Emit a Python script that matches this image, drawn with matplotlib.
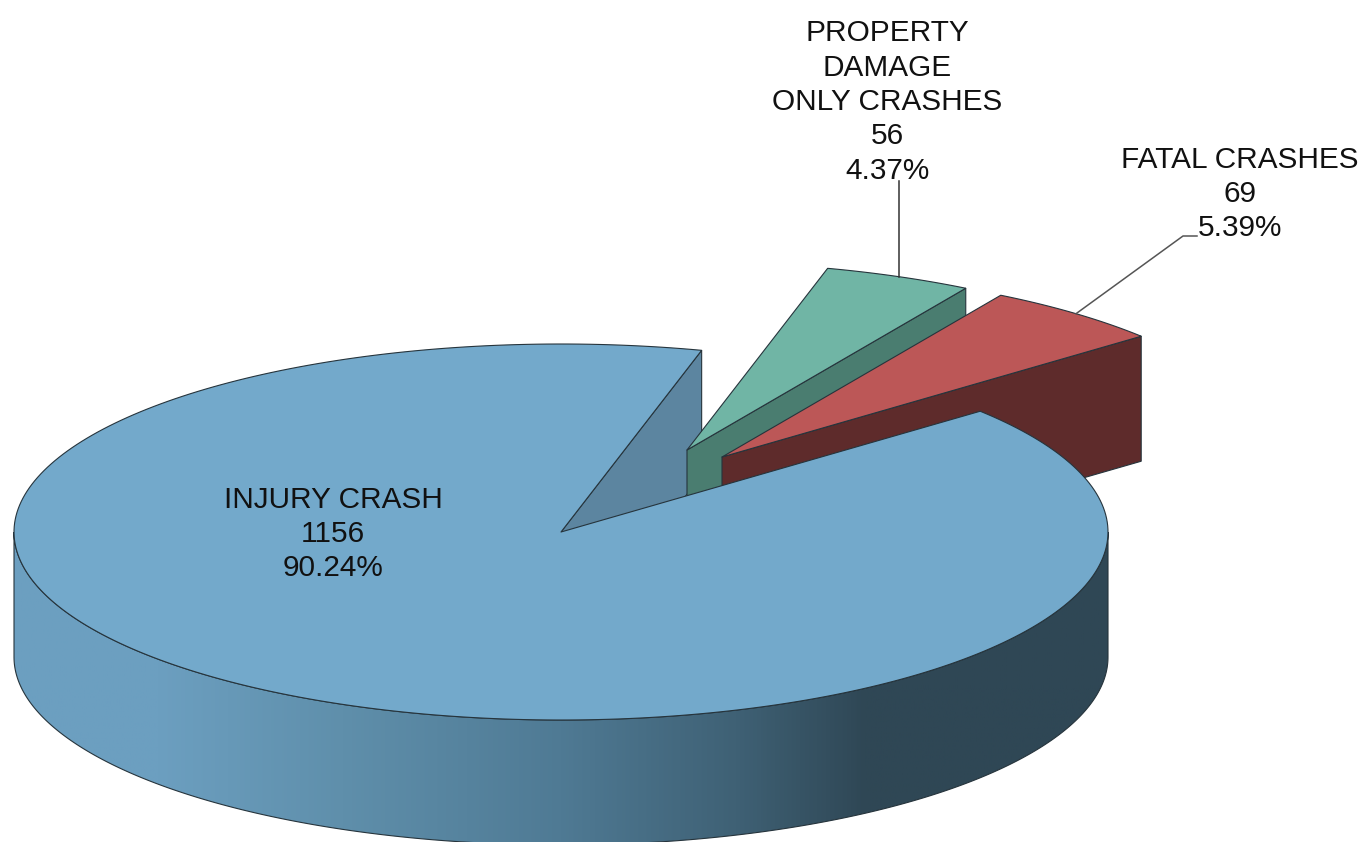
import numpy as np
import matplotlib
matplotlib.use("Agg")
import matplotlib.pyplot as plt
from matplotlib.colors import LinearSegmentedColormap
from matplotlib.patches import Polygon

# Data
categories = ["INJURY CRASH", "FATAL CRASHES", "PROPERTY\nDAMAGE\nONLY CRASHES"]
counts = [1156, 69, 56]

# Styles and geometry (pixels)
top_colors = ["#73A9CB", "#BC5757", "#70B5A5"]
wall_colors = ["#5C85A0", "#5E2B2B", "#4A7D70"]
apexes = [(561, 532), (722, 457), (687, 450)]
RX, RY, DEPTH = 547, 188, 125
START_ANGLE = 75.1
EDGE = "#26343C"
LW = 0.8
grad_pos = [0.0, 0.13, 0.30, 0.50, 0.66, 0.78, 1.0]
grad_col = ["#6C9FC1", "#6C9FC0", "#5F8FAB", "#4F7A94", "#3F6175", "#2F4755", "#2F4755"]

plt.rcParams["font.family"] = ["Liberation Sans", "DejaVu Sans"]
fig = plt.figure(figsize=(13.63, 8.42), dpi=100)
ax = fig.add_axes([0, 0, 1, 1])
ax.set_xlim(0, 1363)
ax.set_ylim(842, 0)
ax.axis("off")


def rim(apex, t_deg, dy=0):
    t = np.radians(t_deg)
    return np.column_stack([apex[0] + RX * np.cos(t), apex[1] - RY * np.sin(t) + dy])


total = sum(counts)
sweeps = [c / total * 360 for c in counts]
starts = START_ANGLE + np.concatenate([[0], np.cumsum(sweeps)[:-1]])
ends = starts + np.array(sweeps)


def side(apex, t, color, z):
    p = rim(apex, [t])[0]
    ax.add_patch(Polygon([apex, p, (p[0], p[1] + DEPTH), (apex[0], apex[1] + DEPTH)],
                         closed=True, fc=color, ec=EDGE, lw=LW, zorder=z))


def top(apex, t0, t1, color, z):
    arc = rim(apex, np.linspace(t0, t1, 300))
    ax.add_patch(Polygon(np.vstack([[apex], arc]), closed=True, fc=color, ec=EDGE,
                         lw=LW, joinstyle="round", zorder=z))


# Back wall of the large slice
side(apexes[0], starts[0], wall_colors[0], 1)
# Exploded slices: property behind fatal
side(apexes[2], starts[2], wall_colors[2], 2)
top(apexes[2], starts[2], ends[2], top_colors[2], 3)
side(apexes[1], starts[1], wall_colors[1], 4)
top(apexes[1], starts[1], ends[1], top_colors[1], 5)

# Front curved wall with a horizontal gradient
front = np.linspace(180, 360, 300)
upper = rim(apexes[0], front)
lower = rim(apexes[0], front, DEPTH)
wall = Polygon(np.vstack([upper, lower[::-1]]), closed=True, fc="none", ec=EDGE, lw=LW, zorder=7)
ax.add_patch(wall)
cmap = LinearSegmentedColormap.from_list("wall", list(zip(grad_pos, grad_col)))
im = ax.imshow(np.linspace(0, 1, 512)[None, :],
               extent=[upper[0, 0], upper[-1, 0], lower[:, 1].max(), upper[:, 1].min()],
               cmap=cmap, aspect="auto", zorder=6)
im.set_clip_path(wall)
ax.set_xlim(0, 1363)
ax.set_ylim(842, 0)

# Top of the large slice
top(apexes[0], starts[0], ends[0], top_colors[0], 8)

# Leader lines, starting at the middle of each exploded slice's rim
mid_fatal = rim(apexes[1], [(starts[1] + ends[1]) / 2])[0]
mid_prop = rim(apexes[2], [(starts[2] + ends[2]) / 2])[0]
ax.plot([mid_fatal[0], 1183, 1197], [mid_fatal[1], 236, 236], color="#555555", lw=1.1, zorder=9)
ax.plot([mid_prop[0], mid_prop[0]], [mid_prop[1], 181], color="#333333", lw=1.1, zorder=9)

# Labels
label_pos = [(333, 534), (1240, 194), (887, 102)]
for name, c, (x, y) in zip(categories, counts, label_pos):
    ax.text(x, y, f"{name}\n{c}\n{c / total:.2%}", ha="center", va="center", ma="center",
            fontsize=21.4, color="#111111", linespacing=1.29, zorder=10)

fig.savefig("out.png", dpi=100, facecolor="white")
